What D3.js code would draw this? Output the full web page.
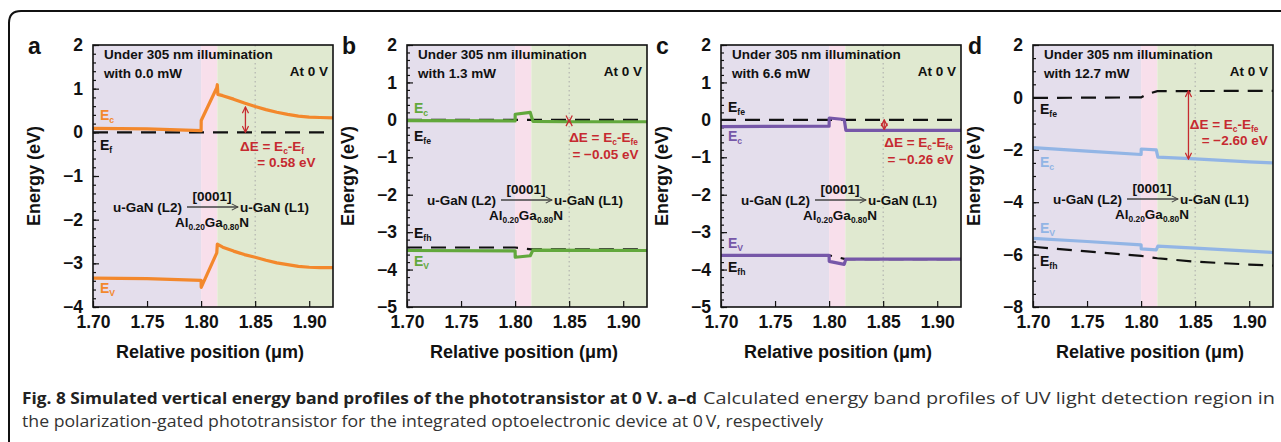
<!DOCTYPE html>
<html>
<head>
<meta charset="utf-8">
<script src="https://cdn.jsdelivr.net/npm/d3@7"></script>
<style>
  body { margin: 0; background: #fff; }
  svg text { font-family: "Liberation Sans", Arial, sans-serif; }
</style>
</head>
<body>
<svg id="fig" width="1281" height="442"></svg>
<script>
// shared x range and layer edges (um)
const xDomain = [1.70, 1.922];
const layerEdges = [1.70, 1.80, 1.815, 1.922];
const layerColors = ['#e4deec', '#f8dfeb', '#e0e9d0'];
const xTicks = [1.70, 1.75, 1.80, 1.85, 1.90];
const markerX = 1.85;

// panel a : 0.0 mW
const ecA = [[1.70, 0.09], [1.75, 0.08], [1.80, 0.04], [1.8001, 0.27], [1.8145, 1.02], [1.815, 1.09], [1.8155, 0.87],
  [1.82, 0.84], [1.83, 0.76], [1.84, 0.67], [1.85, 0.59], [1.86, 0.52], [1.87, 0.46], [1.88, 0.41],
  [1.89, 0.37], [1.90, 0.35], [1.91, 0.34], [1.922, 0.33]];
const evA = [[1.70, -3.34], [1.75, -3.35], [1.80, -3.39], [1.8001, -3.55], [1.8145, -2.76], [1.815, -2.56],
  [1.82, -2.63], [1.83, -2.72], [1.84, -2.80], [1.85, -2.86], [1.86, -2.93], [1.87, -2.99], [1.88, -3.03],
  [1.89, -3.07], [1.90, -3.09], [1.91, -3.10], [1.922, -3.10]];
const efA = [[1.70, 0], [1.922, 0]];

// panel b : 1.3 mW
const ecB = [[1.70, -0.02], [1.80, -0.03], [1.8001, 0.15], [1.814, 0.20], [1.8165, -0.04], [1.85, -0.05], [1.922, -0.05]];
const efeB = [[1.70, 0], [1.922, 0]];
const evB = [[1.70, -3.49], [1.80, -3.50], [1.8001, -3.67], [1.814, -3.63], [1.8165, -3.48], [1.922, -3.49]];
const efhB = [[1.70, -3.41], [1.80, -3.41], [1.815, -3.46], [1.922, -3.46]];

// panel c : 6.6 mW
const ecC = [[1.70, -0.18], [1.80, -0.17], [1.8001, 0.05], [1.814, 0.01], [1.8155, -0.28], [1.922, -0.28]];
const efeC = [[1.70, 0], [1.922, 0]];
const evC = [[1.70, -3.62], [1.80, -3.62], [1.8001, -3.78], [1.814, -3.86], [1.8155, -3.72], [1.922, -3.72]];
const efhC = [[1.70, -3.62], [1.80, -3.62], [1.815, -3.72], [1.922, -3.72]];

// panel d : 12.7 mW
const ecD = [[1.70, -1.92], [1.75, -2.05], [1.80, -2.18], [1.8001, -1.97], [1.814, -2.00], [1.8155, -2.28],
  [1.85, -2.35], [1.90, -2.46], [1.922, -2.50]];
const efeD = [[1.70, -0.02], [1.80, 0.0], [1.805, 0.12], [1.815, 0.24], [1.922, 0.25]];
const evD = [[1.70, -5.38], [1.75, -5.50], [1.80, -5.63], [1.8001, -5.78], [1.814, -5.82], [1.8155, -5.68],
  [1.85, -5.75], [1.90, -5.87], [1.922, -5.92]];
const efhD = [[1.70, -5.70], [1.75, -5.88], [1.80, -6.05], [1.815, -6.14], [1.85, -6.27], [1.90, -6.38], [1.922, -6.42]];

const letters = ['a', 'b', 'c', 'd'];
const powers = ['0.0', '1.3', '6.6', '12.7'];
const deltas = ['0.58', '\u22120.05', '\u22120.26', '\u22122.60'];
const bandColors = ['#f3882c', '#62a83c', '#7657a8', '#92b5e5'];

const panels = [
  {
    yDomain: [-4, 2], yStep: 1, yMinor: 0.2,
    solid: [ecA, evA], dashed: [efA],
    arrow: {x: 1.841, from: 0, to: 0.58},
    dText: [[1.836, -0.42], [1.852, -0.80]], fermi: 'f',
    labels: [['c', 0.28, true], ['f', -0.40, false], ['V', -3.67, true]],
    layerY: 212
  },
  {
    yDomain: [-5, 2], yStep: 1, yMinor: 0.2,
    solid: [ecB, evB], dashed: [efeB, efhB],
    arrow: {x: 1.85, from: 0, to: -0.05},
    dText: [[1.850, -0.60], [1.853, -1.04]], fermi: 'fe',
    labels: [['c', 0.18, true], ['fe', -0.56, false], ['fh', -3.16, false], ['V', -3.90, true]],
    layerY: 205
  },
  {
    yDomain: [-5, 2], yStep: 1, yMinor: 0.2,
    solid: [ecC, evC], dashed: [efeC, efhC],
    arrow: {x: 1.851, from: 0, to: -0.26},
    dText: [[1.851, -0.73], [1.854, -1.17]], fermi: 'fe',
    labels: [['fe', 0.21, false], ['c', -0.56, true], ['V', -3.42, true], ['fh', -4.06, false]],
    layerY: 205
  },
  {
    yDomain: [-8, 2], yStep: 2, yMinor: 0.5,
    solid: [ecD, evD], dashed: [efeD, efhD],
    arrow: {x: 1.8438, from: 0.25, to: -2.35},
    dText: [[1.845, -1.20], [1.856, -1.82]], fermi: 'fe',
    labels: [['fe', -0.63, false], ['c', -2.64, true], ['V', -5.18, true], ['fh', -6.44, false]],
    layerY: 204
  }
];

const svg = d3.select('#fig');
const red = '#c62a30';
const plotLefts = [93, 407, 721, 1033];
const plotW = 240, plotTop = 45, plotBottom = 307;

// markers
const defs = svg.append('defs');
defs.append('marker').attr('id', 'redHead')
  .attr('viewBox', '0 0 10 10').attr('refX', 9).attr('refY', 5)
  .attr('markerWidth', 6).attr('markerHeight', 6)
  .attr('orient', 'auto-start-reverse')
  .append('path').attr('d', 'M1,1 L9,5 L1,9').attr('fill', 'none').attr('stroke', red).attr('stroke-width', 1.6);
defs.append('marker').attr('id', 'grayHead')
  .attr('viewBox', '0 0 10 10').attr('refX', 9).attr('refY', 5)
  .attr('markerWidth', 6).attr('markerHeight', 6)
  .attr('orient', 'auto')
  .append('path').attr('d', 'M1,1 L9,5 L1,9').attr('fill', 'none').attr('stroke', '#444').attr('stroke-width', 1.4);

// outer rounded frame
svg.append('path')
  .attr('d', 'M9,442 L9,23 Q9,11 21,11 L1281,11')
  .attr('fill', 'none').attr('stroke', '#111').attr('stroke-width', 2);

// writes text with subscript parts: [[str, isSub], ...]
function subText(g, x, y, parts, size, color, anchor) {
  const t = g.append('text').attr('x', x).attr('y', y)
    .attr('font-size', size).attr('font-weight', 'bold').attr('fill', color)
    .attr('text-anchor', anchor || 'start');
  let down = false;
  parts.forEach(([s, sub]) => {
    const sp = t.append('tspan').text(s);
    if (sub && !down) { sp.attr('dy', size * 0.22).attr('font-size', size * 0.62); down = true; }
    else if (sub) { sp.attr('font-size', size * 0.62); }
    else if (!sub && down) { sp.attr('dy', -size * 0.22); down = false; }
  });
  return t;
}

panels.forEach((p, i) => {
  const left = plotLefts[i];
  const x = d3.scaleLinear().domain(xDomain).range([left, left + plotW]);
  const y = d3.scaleLinear().domain(p.yDomain).range([plotBottom, plotTop]);
  const g = svg.append('g');
  const color = bandColors[i];

  // layer backgrounds
  layerColors.forEach((c, k) => {
    g.append('rect')
      .attr('x', x(layerEdges[k])).attr('y', plotTop)
      .attr('width', x(layerEdges[k + 1]) - x(layerEdges[k]))
      .attr('height', plotBottom - plotTop)
      .attr('fill', c);
  });

  // dotted marker line
  g.append('line')
    .attr('x1', x(markerX)).attr('x2', x(markerX))
    .attr('y1', plotTop).attr('y2', plotBottom)
    .attr('stroke', '#a9a9a9').attr('stroke-width', 1).attr('stroke-dasharray', '1.5,3');

  // axes
  const yAxis = d3.axisLeft(y)
    .tickValues(d3.range(p.yDomain[0], p.yDomain[1] + 0.001, p.yStep))
    .tickSize(-6).tickPadding(10).tickFormat(d3.format('d'));
  const yMinor = d3.axisLeft(y)
    .tickValues(d3.range(p.yDomain[0], p.yDomain[1] + 0.001, p.yMinor))
    .tickSize(-3).tickFormat('');
  const xAxis = d3.axisBottom(x).tickValues(xTicks)
    .tickSize(-6).tickPadding(9).tickFormat(d3.format('.2f'));

  g.append('g').attr('transform', `translate(${left},0)`).call(yMinor);
  g.append('g').attr('transform', `translate(${left},0)`).call(yAxis);
  g.append('g').attr('transform', `translate(0,${plotBottom})`).call(xAxis);
  g.selectAll('.domain').remove();
  g.selectAll('.tick line').attr('stroke', '#111').attr('stroke-width', 1.2);
  g.selectAll('.tick text')
    .attr('font-size', 17.5).attr('font-weight', 'bold').attr('fill', '#111')
    .style('font-family', '"Liberation Sans", Arial, sans-serif');

  const line = d3.line().x(d => x(d[0])).y(d => y(d[1]));

  // Fermi levels (dashed)
  p.dashed.forEach(d => {
    g.append('path').datum(d)
      .attr('d', line).attr('fill', 'none')
      .attr('stroke', '#111').attr('stroke-width', 2.2)
      .attr('stroke-dasharray', '15,9');
  });

  // band edges
  p.solid.forEach(d => {
    g.append('path').datum(d)
      .attr('d', line).attr('fill', 'none')
      .attr('stroke', color).attr('stroke-width', 3.2)
      .attr('stroke-linejoin', 'round');
  });

  // plot frame
  g.append('rect')
    .attr('x', left).attr('y', plotTop)
    .attr('width', plotW).attr('height', plotBottom - plotTop)
    .attr('fill', 'none').attr('stroke', '#111').attr('stroke-width', 1.6);

  // delta E arrow
  g.append('line')
    .attr('x1', x(p.arrow.x)).attr('x2', x(p.arrow.x))
    .attr('y1', y(p.arrow.from)).attr('y2', y(p.arrow.to))
    .attr('stroke', red).attr('stroke-width', 1.3)
    .attr('marker-start', 'url(#redHead)').attr('marker-end', 'url(#redHead)');

  subText(g, x(p.dText[0][0]), y(p.dText[0][1]),
    [['\u0394E = E', false], ['c', true], ['-E', false], [p.fermi, true]], 13.5, red);
  g.append('text')
    .attr('x', x(p.dText[1][0])).attr('y', y(p.dText[1][1]))
    .attr('font-size', 13.5).attr('font-weight', 'bold').attr('fill', red)
    .text(`= ${deltas[i]} eV`);

  // band labels
  p.labels.forEach(([sub, v, colored]) => {
    subText(g, left + 7, y(v), [['E', false], [sub, true]], 14, colored ? color : '#111');
  });

  // illumination text
  g.append('text').attr('x', left + 11).attr('y', 59)
    .attr('font-size', 13.5).attr('font-weight', 'bold').attr('fill', '#111')
    .text('Under 305 nm illumination');
  g.append('text').attr('x', left + 11).attr('y', 78)
    .attr('font-size', 13.5).attr('font-weight', 'bold').attr('fill', '#111')
    .text(`with ${powers[i]} mW`);
  g.append('text').attr('x', left + plotW - 5).attr('y', 76)
    .attr('text-anchor', 'end')
    .attr('font-size', 13.5).attr('font-weight', 'bold').attr('fill', '#111')
    .text('At 0 V');

  // layer stack annotation
  const ly = p.layerY;
  g.append('text').attr('x', left + 20).attr('y', ly)
    .attr('font-size', 13.5).attr('font-weight', 'bold').attr('fill', '#111')
    .text('u-GaN (L2)');
  g.append('line')
    .attr('x1', left + 94).attr('x2', left + 145)
    .attr('y1', ly - 5).attr('y2', ly - 5)
    .attr('stroke', '#444').attr('stroke-width', 1.3)
    .attr('marker-end', 'url(#grayHead)');
  g.append('text').attr('x', left + 119).attr('y', ly - 11)
    .attr('text-anchor', 'middle')
    .attr('font-size', 13.5).attr('font-weight', 'bold').attr('fill', '#111')
    .text('[0001]');
  g.append('text').attr('x', left + 147).attr('y', ly)
    .attr('font-size', 13.5).attr('font-weight', 'bold').attr('fill', '#111')
    .text('u-GaN (L1)');
  subText(g, left + 119, ly + 15,
    [['Al', false], ['0.20', true], ['Ga', false], ['0.80', true], ['N', false]], 13.5, '#111', 'middle');

  // axis titles and panel letter
  svg.append('text')
    .attr('transform', `translate(${left - 53},${(plotTop + plotBottom) / 2}) rotate(-90)`)
    .attr('text-anchor', 'middle')
    .attr('font-size', 18).attr('font-weight', 'bold').attr('fill', '#111')
    .text('Energy (eV)');
  svg.append('text')
    .attr('x', left + plotW / 2 - 3).attr('y', 358)
    .attr('text-anchor', 'middle')
    .attr('font-size', 18).attr('font-weight', 'bold').attr('fill', '#111')
    .text('Relative position (\u03bcm)');
  svg.append('text')
    .attr('x', left - 65).attr('y', 54)
    .attr('font-size', 23).attr('font-weight', 'bold').attr('fill', '#111')
    .text(letters[i]);
});

// caption
const cap = svg.append('g');
cap.append('text').attr('x', 22).attr('y', 404)
  .attr('font-size', 16).attr('font-weight', 'bold').attr('fill', '#222')
  .attr('textLength', 675).attr('lengthAdjust', 'spacingAndGlyphs')
  .style('font-family', '"Open Sans", sans-serif')
  .text('Fig. 8 Simulated vertical energy band profiles of the phototransistor at 0 V. a\u2013d');
cap.append('text').attr('x', 703).attr('y', 404)
  .attr('font-size', 16).attr('fill', '#333')
  .attr('textLength', 572).attr('lengthAdjust', 'spacingAndGlyphs')
  .style('font-family', '"Open Sans", sans-serif')
  .text('Calculated energy band profiles of UV light detection region in');
cap.append('text').attr('x', 22).attr('y', 427)
  .attr('font-size', 16).attr('fill', '#333')
  .attr('textLength', 801).attr('lengthAdjust', 'spacingAndGlyphs')
  .style('font-family', '"Open Sans", sans-serif')
  .text('the polarization-gated phototransistor for the integrated optoelectronic device at 0\u2009V, respectively');
</script>
</body>
</html>
